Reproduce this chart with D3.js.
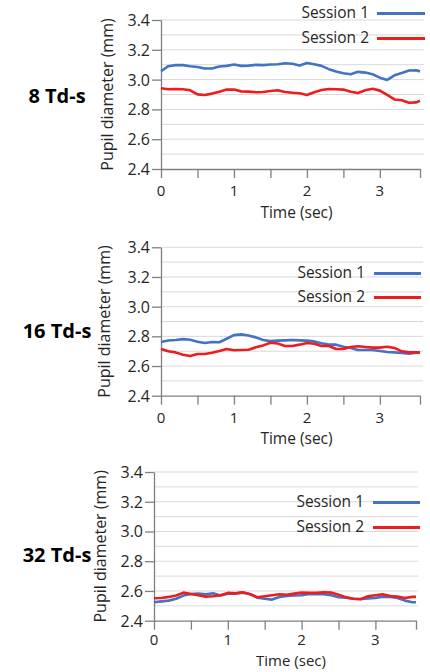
<!DOCTYPE html>
<html>
<head>
<meta charset="utf-8">
<script src="https://cdn.jsdelivr.net/npm/d3@7"></script>
<style>
  body { margin: 0; background: #fff; }
  text { font-family: "Open Sans", sans-serif; fill: #262626; }
</style>
</head>
<body>
<div id="chart-area"></div>
<script>
// time points (sec)
const times = [0, 0.1, 0.2, 0.3, 0.4, 0.5, 0.6, 0.7, 0.8, 0.9,
    1.0, 1.1, 1.2, 1.3, 1.4, 1.5, 1.6, 1.7, 1.8, 1.9,
    2.0, 2.1, 2.2, 2.3, 2.4, 2.5, 2.6, 2.7, 2.8, 2.9,
    3.0, 3.1, 3.2, 3.3, 3.4, 3.5, 3.55];

// 8 Td-s
const session1_8 = [3.056, 3.090, 3.097, 3.097, 3.090, 3.085, 3.074, 3.074, 3.088, 3.092,
    3.101, 3.092, 3.094, 3.099, 3.097, 3.101, 3.103, 3.110, 3.106, 3.094,
    3.112, 3.103, 3.092, 3.070, 3.054, 3.043, 3.036, 3.052, 3.047, 3.036,
    3.013, 2.998, 3.029, 3.045, 3.061, 3.063, 3.054];
const session2_8 = [2.942, 2.935, 2.937, 2.935, 2.928, 2.901, 2.897, 2.906, 2.919, 2.933,
    2.933, 2.921, 2.919, 2.915, 2.917, 2.924, 2.928, 2.917, 2.912, 2.908,
    2.897, 2.915, 2.930, 2.937, 2.935, 2.933, 2.919, 2.910, 2.928, 2.939,
    2.926, 2.897, 2.867, 2.861, 2.845, 2.847, 2.858];

// 16 Td-s
const session1_16 = [2.762, 2.772, 2.775, 2.781, 2.777, 2.764, 2.755, 2.762, 2.760, 2.784,
    2.808, 2.813, 2.806, 2.793, 2.775, 2.768, 2.771, 2.773, 2.775, 2.773,
    2.771, 2.766, 2.753, 2.744, 2.744, 2.730, 2.722, 2.708, 2.708, 2.708,
    2.701, 2.694, 2.692, 2.688, 2.683, 2.690, 2.690];
const session2_16 = [2.715, 2.699, 2.692, 2.676, 2.667, 2.681, 2.681, 2.690, 2.701, 2.715,
    2.706, 2.708, 2.710, 2.726, 2.739, 2.757, 2.752, 2.735, 2.735, 2.744,
    2.755, 2.750, 2.735, 2.735, 2.715, 2.715, 2.728, 2.733, 2.728, 2.724,
    2.724, 2.730, 2.722, 2.699, 2.692, 2.692, 2.690];

// 32 Td-s
const session1_32 = [2.524, 2.530, 2.535, 2.548, 2.569, 2.580, 2.582, 2.578, 2.584, 2.569,
    2.582, 2.582, 2.589, 2.580, 2.555, 2.548, 2.542, 2.560, 2.566, 2.569,
    2.571, 2.580, 2.578, 2.578, 2.571, 2.558, 2.555, 2.548, 2.546, 2.550,
    2.553, 2.562, 2.560, 2.553, 2.535, 2.524, 2.524];
const session2_32 = [2.551, 2.553, 2.560, 2.569, 2.589, 2.580, 2.571, 2.562, 2.564, 2.571,
    2.587, 2.584, 2.591, 2.578, 2.558, 2.564, 2.571, 2.578, 2.575, 2.582,
    2.589, 2.587, 2.587, 2.591, 2.589, 2.575, 2.558, 2.548, 2.544, 2.564,
    2.571, 2.578, 2.566, 2.562, 2.553, 2.560, 2.560];

const xTicks = [0, 0.5, 1, 1.5, 2, 2.5, 3, 3.55];
const xLabels = [0, 1, 2, 3];
const yTicks = [2.4, 2.6, 2.8, 3.0, 3.2, 3.4];
const yGrid = [2.5, 2.6, 2.7, 2.8, 2.9, 3.0, 3.1, 3.2, 3.3, 3.4];
const seriesNames = ["Session 1", "Session 2"];
const colors = ["#4472c4", "#ee1c1c"];

const width = 430, height = 672;

const svg = d3.select("#chart-area")
    .append("svg")
        .attr("width", width)
        .attr("height", height);

// one block per panel
const panels = [
    {title: "8 Td-s", s1: session1_8, s2: session2_8,
     x0: 161, x1: 420, gridEnd: 424, top: 20, bottom: 169,
     tickY: 27, timeY: 48.5, timeSize: 15.5,
     titleY: 103, yLabelX: 113, legX: 369, legLine: [377, 425], legY: [12, 37]},
    {title: "16 Td-s", s1: session1_16, s2: session2_16,
     x0: 161, x1: 420, gridEnd: 423, top: 247.3, bottom: 395.7,
     tickY: 27, timeY: 48.5, timeSize: 15.5,
     titleY: 338, yLabelX: 110, legX: 365, legLine: [374, 421], legY: [272, 296]},
    {title: "32 Td-s", s1: session1_32, s2: session2_32,
     x0: 154, x1: 416, gridEnd: 418, top: 472, bottom: 620.7,
     tickY: 24.5, timeY: 45.3, timeSize: 15,
     titleY: 562, yLabelX: 106, legX: 364, legLine: [373, 420], legY: [501, 526]}
];

panels.forEach(function(p){
    const g = svg.append("g");

    let x = d3.scaleLinear()
        .domain([0, 3.55])
        .range([p.x0, p.x1]);

    let y = d3.scaleLinear()
        .domain([2.4, 3.4])
        .range([p.bottom, p.top]);

    // gridlines
    g.selectAll(".grid")
        .data(yGrid)
        .enter().append("line")
            .attr("x1", p.x0)
            .attr("x2", p.gridEnd)
            .attr("y1", function(d){ return y(d); })
            .attr("y2", function(d){ return y(d); })
            .attr("stroke", "#d9d9d9")
            .attr("stroke-width", 1);

    // X AXIS
    const xAxisCall = d3.axisBottom(x)
        .tickValues(xTicks)
        .tickSize(9)
        .tickSizeOuter(0)
        .tickFormat("");
    const xAxis = g.append("g")
        .attr("transform", "translate(0," + p.bottom + ")")
        .call(xAxisCall);
    xAxis.selectAll("line, path").attr("stroke", "#7f7f7f").attr("stroke-width", 1.3);

    g.selectAll(".xlabel")
        .data(xLabels)
        .enter().append("text")
            .attr("x", function(d){ return x(d); })
            .attr("y", p.bottom + p.tickY)
            .attr("text-anchor", "middle")
            .attr("font-size", "15px")
            .text(function(d){ return d; });

    // Y AXIS
    const yAxisCall = d3.axisLeft(y)
        .tickValues(yTicks)
        .tickSize(9)
        .tickSizeOuter(0)
        .tickFormat("");
    const yAxis = g.append("g")
        .attr("transform", "translate(" + p.x0 + ",0)")
        .call(yAxisCall);
    yAxis.selectAll("line, path").attr("stroke", "#7f7f7f").attr("stroke-width", 1.3);

    g.selectAll(".ylabel")
        .data(yTicks)
        .enter().append("text")
            .attr("x", p.x0 - 11)
            .attr("y", function(d){ return y(d) + 6; })
            .attr("text-anchor", "end")
            .attr("font-size", "16px")
            .text(function(d){ return d.toFixed(1); });

    // LABELS
    g.append("text")
        .attr("transform", "translate(" + p.yLabelX + "," + (p.top + p.bottom) / 2 + ") rotate(-90)")
        .attr("text-anchor", "middle")
        .attr("font-size", "16px")
        .text("Pupil diameter (mm)");

    g.append("text")
        .attr("x", (p.x0 + p.x1) / 2 + 6)
        .attr("y", p.bottom + p.timeY)
        .attr("text-anchor", "middle")
        .attr("font-size", p.timeSize + "px")
        .text("Time (sec)");

    g.append("text")
        .attr("x", 57)
        .attr("y", p.titleY)
        .attr("text-anchor", "middle")
        .attr("font-size", "20px")
        .attr("font-weight", "bold")
        .style("fill", "#000")
        .text(p.title);

    // lines
    const line = d3.line()
        .x(function(d, i){ return x(times[i]); })
        .y(function(d){ return y(d); });

    [p.s1, p.s2].forEach(function(s, i){
        g.append("path")
            .datum(s)
            .attr("fill", "none")
            .attr("stroke", colors[i])
            .attr("stroke-width", 2.6)
            .attr("stroke-linejoin", "round")
            .attr("d", line);
    });

    // legend
    seriesNames.forEach(function(name, i){
        g.append("text")
            .attr("x", p.legX)
            .attr("y", p.legY[i] + 6)
            .attr("text-anchor", "end")
            .attr("font-size", "15.5px")
            .text(name);
        g.append("line")
            .attr("x1", p.legLine[0])
            .attr("x2", p.legLine[1])
            .attr("y1", p.legY[i] + 1.5)
            .attr("y2", p.legY[i] + 1.5)
            .attr("stroke", colors[i])
            .attr("stroke-width", 3);
    });
});
</script>
</body>
</html>
